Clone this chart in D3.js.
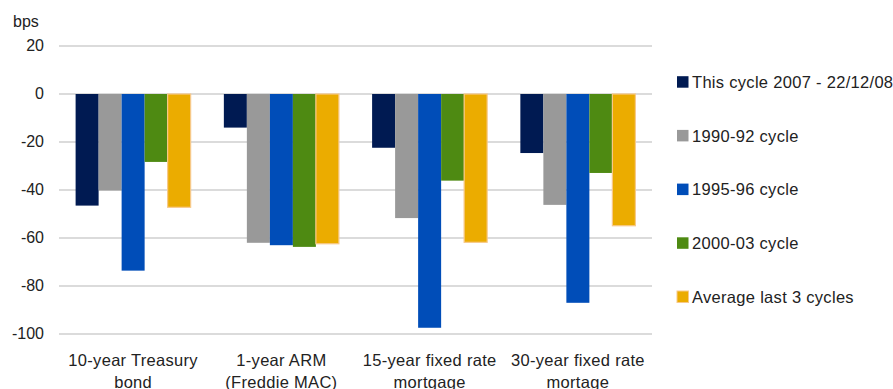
<!DOCTYPE html>
<html><head><meta charset="utf-8">
<script src="https://cdn.jsdelivr.net/npm/d3@7"></script>
<style>
body{margin:0;background:#fff;}
svg{display:block;font-family:"Liberation Sans",Arial,sans-serif;}
</style></head>
<body><svg id="c" width="893" height="389"></svg>
<script>
const categories = [["10-year Treasury","bond"],["1-year ARM","(Freddie MAC)"],["15-year fixed rate","mortgage"],["30-year fixed rate","mortage"]];
const seriesNames = ["This cycle 2007 - 22/12/08","1990-92 cycle","1995-96 cycle","2000-03 cycle","Average last 3 cycles"];
const seriesColors = ["#001a52","#999999","#004db8","#4e8a12","#ebac00"];
const thisCycle = [-46.5,-14,-22.4,-24.6];
const c1990 = [-40.2,-62,-51.7,-46.2];
const c1995 = [-73.6,-63,-97.4,-87];
const c2000 = [-28.3,-63.7,-36.1,-32.9];
const avg3 = [-47.2,-62.4,-61.8,-54.9];
const yTicks = [20,0,-20,-40,-60,-80,-100];
const seriesValues = [thisCycle,c1990,c1995,c2000,avg3];

const svg = d3.select("#c");
const x0 = 59, x1 = 652;
const y = d3.scaleLinear().domain([-100,20]).range([334,46]);
const xb = d3.scaleBand().domain(d3.range(categories.length)).range([x0,x1]).paddingInner(0.224).paddingOuter(0.112);
const xs = d3.scaleBand().domain(d3.range(seriesNames.length)).range([0,xb.bandwidth()]);

// gridlines
svg.append("g").selectAll("line").data(yTicks).join("line")
  .attr("x1",x0).attr("x2",x1).attr("y1",d=>y(d)).attr("y2",d=>y(d))
  .attr("stroke","#cfcfcf").attr("stroke-width",1.3);
// y labels
svg.append("g").selectAll("text").data(yTicks).join("text")
  .attr("x",44).attr("y",d=>y(d)+5).attr("text-anchor","end")
  .attr("font-size",16).attr("fill","#222").text(d=>d);
svg.append("text").attr("x",13).attr("y",27).attr("font-size",16).attr("fill","#222").text("bps");

// bars
const g = svg.append("g");
seriesValues.forEach((vals,si)=>{
  g.selectAll(null).data(vals).join("rect")
    .attr("x",(d,i)=>xb(i)+xs(si))
    .attr("width",xs.bandwidth())
    .attr("y",d=>y(Math.max(0,d)))
    .attr("height",d=>Math.abs(y(d)-y(0)))
    .attr("fill",seriesColors[si])
    .attr("stroke",si===4?"#f7c98a":"none")
    .attr("stroke-width",si===4?1.2:0);
});

// x labels
const xl = svg.append("g");
categories.forEach((lines,i)=>{
  const t = xl.append("text").attr("text-anchor","middle").attr("font-size",16.5).attr("letter-spacing",0.3).attr("fill","#222");
  lines.forEach((l,k)=>t.append("tspan").attr("x",xb(i)+xb.bandwidth()/2).attr("y",366+k*21.5).text(l));
});

// legend
const lg = svg.append("g");
seriesNames.forEach((n,i)=>{
  const cy = 82 + i*53.7;
  lg.append("rect").attr("x",677).attr("y",cy-5.8).attr("width",11.5).attr("height",11.5)
    .attr("fill",seriesColors[i]).attr("stroke",i===4?"#f7c98a":"none");
  lg.append("text").attr("x",692).attr("y",cy+5.8).attr("font-size",16.5).attr("letter-spacing",0.3).attr("fill","#222").text(n);
});
</script></body></html>
